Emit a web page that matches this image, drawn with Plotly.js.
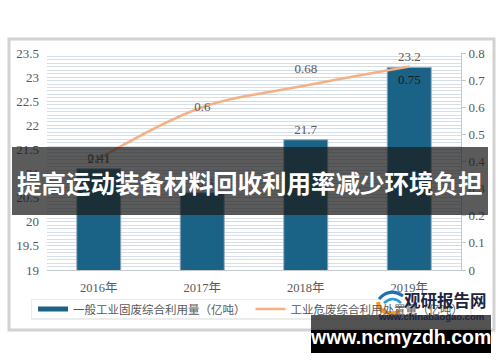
<!DOCTYPE html>
<html>
<head>
<meta charset="utf-8">
<script src="https://cdn.plot.ly/plotly-3.0.1.min.js"></script>
<style>
  html, body { margin: 0; padding: 0; background: #ffffff; }
  #chart { width: 500px; height: 362px; }
</style>
</head>
<body>
<div id="chart"></div>
<script>
// Categories and series
const years = ['2016年', '2017年', '2018年', '2019年'];
const generalWaste = [21.1, 20.6, 21.7, 23.2];      // 一般工业固废综合利用量（亿吨）
const hazardousWaste = [0.41, 0.6, 0.68, 0.75];     // 工业危废综合利用处置量（亿吨）
const generalName = '一般工业固废综合利用量（亿吨）';
const hazardousName = '工业危废综合利用处置量（亿吨）';

const barColor = '#1b6386';
const lineColor = '#f4b183';
const textGrey = '#595959';
const numFont = 'Liberation Serif, Noto Sans CJK SC, serif';
const cjkFont = 'Noto Sans CJK SC, sans-serif';

// plot area: left 47px, right 461px, top 53px, bottom 270px
const PL = 47, PW = 414, PB = 270, PH = 217;
const X = px => (px - PL) / PW;
const Y = py => (PB - py) / PH;

const traces = [
  {
    type: 'bar',
    x: years,
    y: generalWaste,
    name: generalName,
    showlegend: false,
    width: 0.425,
    marker: { color: barColor, line: { color: 'rgba(150,170,185,0.9)', width: 1 } },
    text: generalWaste.map(v => v.toFixed(1)),
    textposition: 'outside',
    textfont: { family: numFont, size: 13, color: textGrey },
    cliponaxis: false,
    hoverinfo: 'x+y'
  },
  {
    type: 'scatter',
    x: years,
    y: hazardousWaste,
    yaxis: 'y2',
    name: hazardousName,
    showlegend: false,
    mode: 'lines+markers+text',
    line: { color: lineColor, width: 2.5, shape: 'spline', smoothing: 1 },
    // invisible markers only set how far each label sits from its point
    marker: { size: [0, 0, 14, 10], color: 'rgba(0,0,0,0)', line: { width: 0 } },
    text: hazardousWaste.map(String),
    textposition: ['middle center', 'middle center', 'top center', 'bottom center'],
    textfont: { family: numFont, size: 13, color: [textGrey, textGrey, textGrey, '#1a1a1a'] },
    cliponaxis: false
  },
  // legend entries
  {
    type: 'scatter', x: [null], y: [null], mode: 'lines',
    name: generalName, line: { color: barColor, width: 5 }, hoverinfo: 'skip'
  },
  {
    type: 'scatter', x: [null], y: [null], mode: 'lines', yaxis: 'y2',
    name: hazardousName, line: { color: lineColor, width: 2.5 }, hoverinfo: 'skip'
  }
];

// swirl mark beside the publisher name
function P(points) {
  return points.map((p, i) => (i === 0 ? 'M ' : (i === 1 ? 'Q ' : '')) + X(p[0]).toFixed(5) + ',' + Y(p[1]).toFixed(5)).join(' ');
}

const shapes = [
  // outer frame
  { type: 'rect', xref: 'paper', yref: 'paper', layer: 'below',
    x0: X(9), x1: X(494), y0: Y(330), y1: Y(39),
    line: { color: '#d2d2d2', width: 3 }, fillcolor: '#ffffff' },
  // legend box with soft shadow
  { type: 'rect', xref: 'paper', yref: 'paper', layer: 'below',
    x0: X(31), x1: X(472), y0: Y(320), y1: Y(299),
    line: { width: 0 }, fillcolor: '#ececec' },
  { type: 'rect', xref: 'paper', yref: 'paper', layer: 'below',
    x0: X(32), x1: X(470), y0: Y(318), y1: Y(300),
    line: { width: 0 }, fillcolor: '#ffffff' },
  // headline band
  { type: 'rect', xref: 'paper', yref: 'paper', layer: 'above',
    x0: X(12), x1: X(488), y0: Y(215), y1: Y(147),
    line: { width: 0 }, fillcolor: 'rgba(28,28,28,0.72)' },
  // site address box
  { type: 'rect', xref: 'paper', yref: 'paper', layer: 'above',
    x0: X(311), x1: X(491), y0: Y(330), y1: Y(315),
    line: { width: 0 }, fillcolor: 'rgba(40,40,40,0.8)' },
  { type: 'rect', xref: 'paper', yref: 'paper', layer: 'above',
    x0: X(311), x1: X(491), y0: Y(353), y1: Y(330),
    line: { width: 0 }, fillcolor: '#000000' },
  // logo swirl
  { type: 'path', xref: 'paper', yref: 'paper', layer: 'above',
    path: P([[378, 302], [380, 317], [400, 312]]),
    line: { color: '#f39a1e', width: 4 } },
  { type: 'path', xref: 'paper', yref: 'paper', layer: 'above',
    path: P([[379, 299], [390, 287], [403, 296]]),
    line: { color: '#1f6fb5', width: 3 } },
  { type: 'path', xref: 'paper', yref: 'paper', layer: 'above',
    path: P([[384, 303], [393, 295], [401, 303]]),
    line: { color: '#2c9ad6', width: 2.5 } }
];

const annotations = [
  { xref: 'paper', yref: 'paper', x: X(250), y: Y(182), xanchor: 'center', yanchor: 'middle', showarrow: false,
    text: '<b>提高运动装备材料回收利用率减少环境负担</b>',
    font: { family: cjkFont, size: 24.5, color: '#ffffff' } },
  { xref: 'paper', yref: 'paper', x: X(445), y: Y(300), xanchor: 'center', yanchor: 'middle', showarrow: false,
    text: '<b>观研报告网</b>',
    font: { family: cjkFont, size: 16.5, color: '#1c2440' } },
  { xref: 'paper', yref: 'paper', x: X(431), y: Y(316), xanchor: 'center', yanchor: 'middle', showarrow: false,
    text: '<b>www.chinabaogao.com</b>',
    font: { family: 'Liberation Sans, Arial, sans-serif', size: 9.5, color: '#1c2440' } },
  { xref: 'paper', yref: 'paper', x: X(400), y: Y(337), xanchor: 'center', yanchor: 'middle', showarrow: false,
    text: '<b>www.ncmyzdh.com</b>',
    font: { family: 'Liberation Sans, Arial, sans-serif', size: 19.5, color: '#ffffff' } }
];

const layout = {
  width: 500,
  height: 362,
  margin: { l: PL, r: 500 - PL - PW, t: 53, b: 362 - PB },
  paper_bgcolor: '#ffffff',
  plot_bgcolor: '#f3f6f9',
  showlegend: true,
  legend: {
    orientation: 'h',
    x: X(33), y: Y(309), xanchor: 'left', yanchor: 'middle',
    bgcolor: 'rgba(0,0,0,0)',
    font: { family: cjkFont, size: 11.5, color: textGrey },
    itemwidth: 30,
    tracegroupgap: 0
  },
  xaxis: {
    type: 'category',
    showline: true, linecolor: '#c4c9ce', linewidth: 1,
    showgrid: false,
    ticks: '',
    tickfont: { family: numFont, size: 12.5, color: textGrey },
    ticklabelstandoff: 6
  },
  yaxis: {
    range: [19, 23.5],
    dtick: 0.5,
    showgrid: true, gridcolor: '#d0d9e3', gridwidth: 1,
    minor: { dtick: 0.5 / 7, showgrid: true, gridcolor: '#d6dee8', gridwidth: 1 },
    zeroline: false, showline: false,
    ticks: '',
    tickfont: { family: numFont, size: 13, color: textGrey },
    ticklabelstandoff: 7
  },
  yaxis2: {
    overlaying: 'y',
    side: 'right',
    range: [0, 0.8],
    dtick: 0.1,
    showgrid: false, zeroline: false,
    showline: true, linecolor: '#c4c9ce', linewidth: 1,
    ticks: 'outside', ticklen: 4, tickcolor: '#c4c9ce',
    tickfont: { family: numFont, size: 13, color: textGrey }
  },
  shapes: shapes,
  annotations: annotations,
  bargap: 0.575
};

Plotly.newPlot('chart', traces, layout, { staticPlot: true, displayModeBar: false });
</script>
</body>
</html>
